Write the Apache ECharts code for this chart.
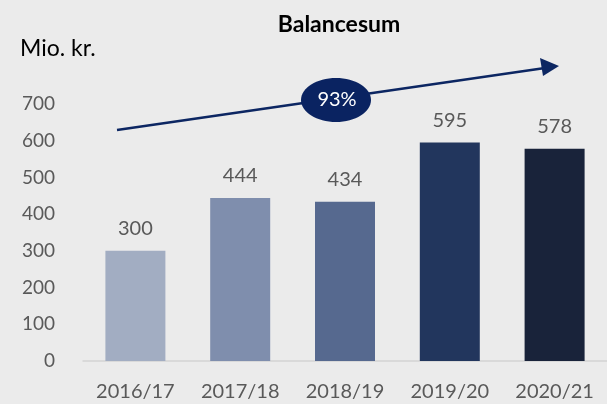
<!DOCTYPE html>
<html lang="da" style="height: 100%">
<head>
  <meta charset="utf-8">
</head>
<body style="height: 100%; margin: 0; background: #ebebeb">
  <div id="container" style="width: 607px; height: 404px"></div>
  <script type="text/javascript" src="https://cdn.jsdelivr.net/npm/echarts@6/dist/echarts.min.js"></script>
  <script type="text/javascript">
    var years = ['2016/17', '2017/18', '2018/19', '2019/20', '2020/21'];
    var balance = [300, 444, 434, 595, 578];
    var barColors = ['#a2adc2', '#7f8ead', '#56698f', '#22365d', '#19233a'];
    var yTicks = [0, 700, 100];
    var growthText = '93%';

    var dom = document.getElementById('container');
    var myChart = echarts.init(dom, null, { renderer: 'canvas' });
    var font = 'Lato, "Noto Sans", sans-serif';

    var option = {
      backgroundColor: '#ebebeb',
      animation: false,
      title: {
        text: 'Balancesum',
        left: 334,
        top: 8,
        textAlign: 'center',
        textStyle: { fontFamily: font, fontSize: 23, fontWeight: 'bold', color: '#000' }
      },
      grid: { left: 83, right: 0, top: 104, bottom: 43 },
      xAxis: {
        type: 'category',
        data: years,
        axisTick: { show: false },
        axisLine: { lineStyle: { color: '#d4d4d4', width: 1.5 } },
        axisLabel: { fontFamily: font, fontSize: 20, color: '#595959', margin: 21 }
      },
      yAxis: {
        type: 'value',
        min: yTicks[0],
        max: yTicks[1],
        interval: yTicks[2],
        splitLine: { show: false },
        axisLine: { show: false },
        axisTick: { show: false },
        axisLabel: { fontFamily: font, fontSize: 19, color: '#595959', margin: 28 }
      },
      series: [
        {
          type: 'bar',
          barWidth: 60,
          data: balance.map(function (v, i) {
            return { value: v, itemStyle: { color: barColors[i] } };
          }),
          label: {
            show: true,
            position: 'top',
            distance: 12,
            fontFamily: font,
            fontSize: 20,
            color: '#595959'
          }
        }
      ],
      graphic: [
        {
          type: 'text',
          left: 20,
          top: 37,
          style: { text: 'Mio. kr.', fontFamily: font, fontSize: 23, fill: '#000' }
        },
        {
          type: 'line',
          shape: { x1: 117, y1: 130, x2: 545, y2: 68 },
          style: { stroke: '#0c2662', lineWidth: 2.5 }
        },
        {
          type: 'polygon',
          shape: { points: [[559, 66], [540, 58], [543, 76]] },
          style: { fill: '#0c2662' }
        },
        {
          type: 'ellipse',
          shape: { cx: 336, cy: 100, rx: 35, ry: 22 },
          style: { fill: '#0a2361' }
        },
        {
          type: 'text',
          x: 337,
          y: 100,
          style: {
            text: growthText,
            fontFamily: font,
            fontSize: 20,
            fill: '#fff',
            align: 'center',
            verticalAlign: 'middle'
          }
        }
      ]
    };

    myChart.setOption(option);
    window.addEventListener('resize', myChart.resize);
  </script>
</body>
</html>
